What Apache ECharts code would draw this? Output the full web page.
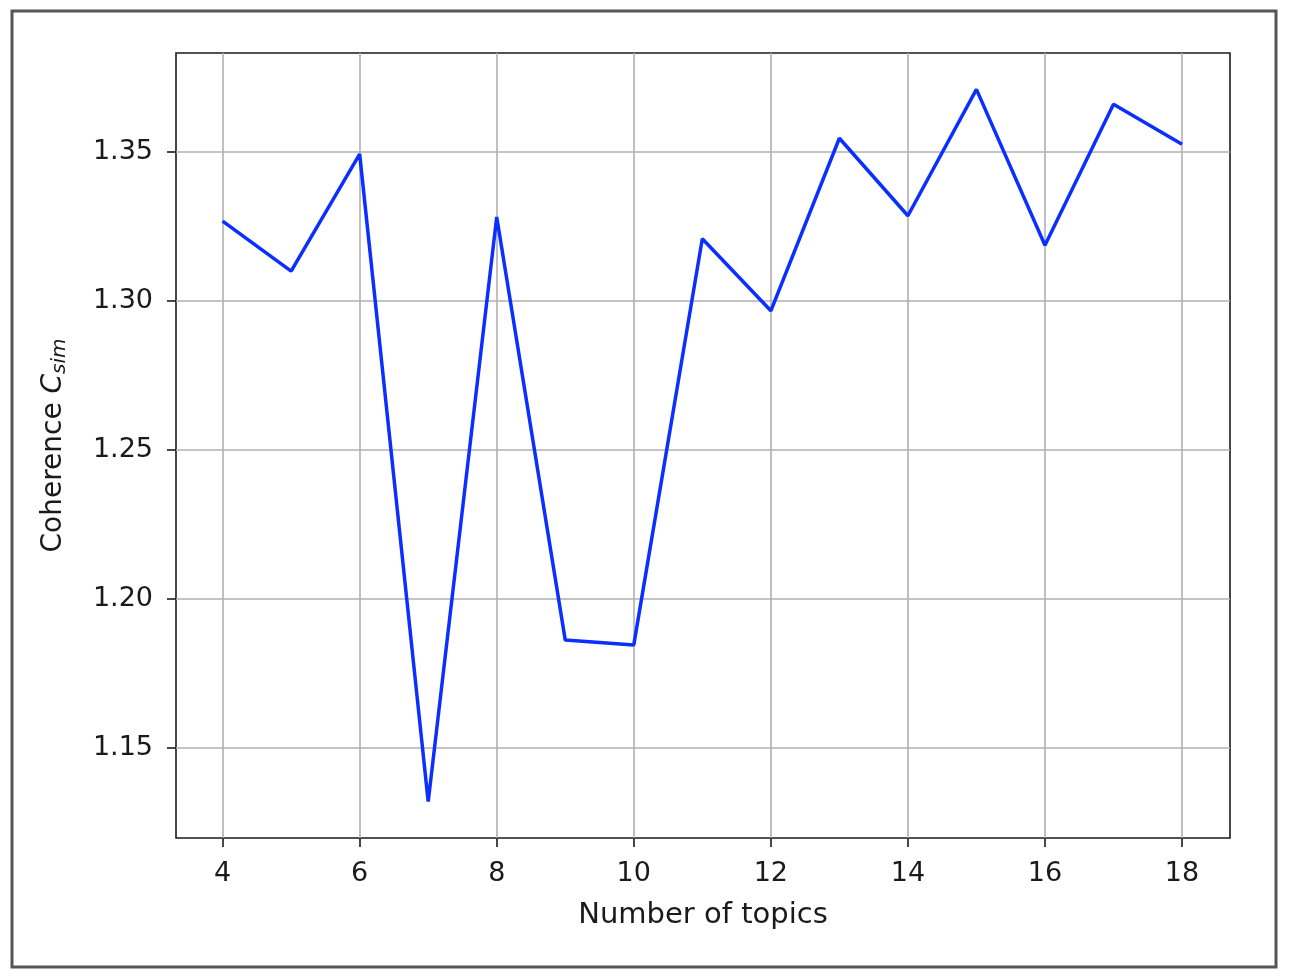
<!DOCTYPE html>
<html>
<head>
<meta charset="utf-8">
<script src="https://cdn.jsdelivr.net/npm/echarts@6/dist/echarts.min.js"></script>
<style>
  html, body { margin: 0; padding: 0; background: #fff; }
  #chart { width: 1292px; height: 978px; }
</style>
</head>
<body>
<div id="chart"></div>
<script>
// data
const topics = [4, 5, 6, 7, 8, 9, 10, 11, 12, 13, 14, 15, 16, 17, 18];
const coherence = [1.3268, 1.3100, 1.3493, 1.1320, 1.3282, 1.1862, 1.1846, 1.3209, 1.2967,
                   1.3546, 1.3286, 1.3710, 1.3187, 1.3660, 1.3526];
const xTicks = [4, 6, 8, 10, 12, 14, 16, 18];
const yTicks = [1.15, 1.20, 1.25, 1.30, 1.35];

const chart = echarts.init(document.getElementById('chart'));
const font = 'DejaVu Sans';
const ink = '#1a1a1a';

chart.setOption({
  backgroundColor: '#fff',
  animation: false,
  graphic: [{
    type: 'rect',
    shape: { x: 12, y: 11, width: 1264, height: 956 },
    style: { fill: 'none', stroke: '#555', lineWidth: 3 },
    z: 100
  }],
  grid: {
    left: 176, right: 62, top: 53, bottom: 140,
    show: true, borderColor: ink, borderWidth: 1.6,
    backgroundColor: 'transparent'
  },
  xAxis: {
    type: 'value',
    min: 3.32, max: 18.7,
    name: 'Number of topics',
    nameLocation: 'middle',
    nameGap: 63,
    nameTextStyle: { fontFamily: font, fontSize: 29, color: ink },
    axisLine: { show: false },
    axisTick: { show: true, length: 9, customValues: xTicks,
                lineStyle: { color: ink, width: 1.6 } },
    axisLabel: { customValues: xTicks, margin: 22, fontFamily: font, fontSize: 27, color: ink },
    splitLine: { show: true, lineStyle: { color: '#b0b0b0', width: 1.6 } }
  },
  yAxis: {
    type: 'value',
    min: 1.1198, max: 1.3832,
    name: '{n|Coherence }{c|C}{s|sim}',
    nameLocation: 'middle',
    nameRotate: 90,
    nameGap: 106,
    nameTextStyle: {
      fontFamily: font, color: ink,
      rich: {
        n: { fontFamily: font, fontSize: 28, lineHeight: 30, verticalAlign: 'top', color: ink },
        c: { fontFamily: font, fontSize: 28, lineHeight: 30, verticalAlign: 'top', fontStyle: 'italic', color: ink },
        s: { fontFamily: font, fontSize: 20, lineHeight: 20, padding: [14, 0, 0, 0], verticalAlign: 'bottom', fontStyle: 'italic', color: ink }
      }
    },
    axisLine: { show: false },
    axisTick: { show: true, length: 9, customValues: yTicks,
                lineStyle: { color: ink, width: 1.6 } },
    axisLabel: {
      customValues: yTicks, margin: 23, fontFamily: font, fontSize: 27, color: ink,
      formatter: v => v.toFixed(2)
    },
    splitLine: { show: true, lineStyle: { color: '#b0b0b0', width: 1.6 } }
  },
  series: [{
    type: 'line',
    data: topics.map((t, i) => [t, coherence[i]]),
    symbol: 'none',
    lineStyle: { color: '#0a2fff', width: 3.5 },
    z: 5
  }]
});
</script>
</body>
</html>
